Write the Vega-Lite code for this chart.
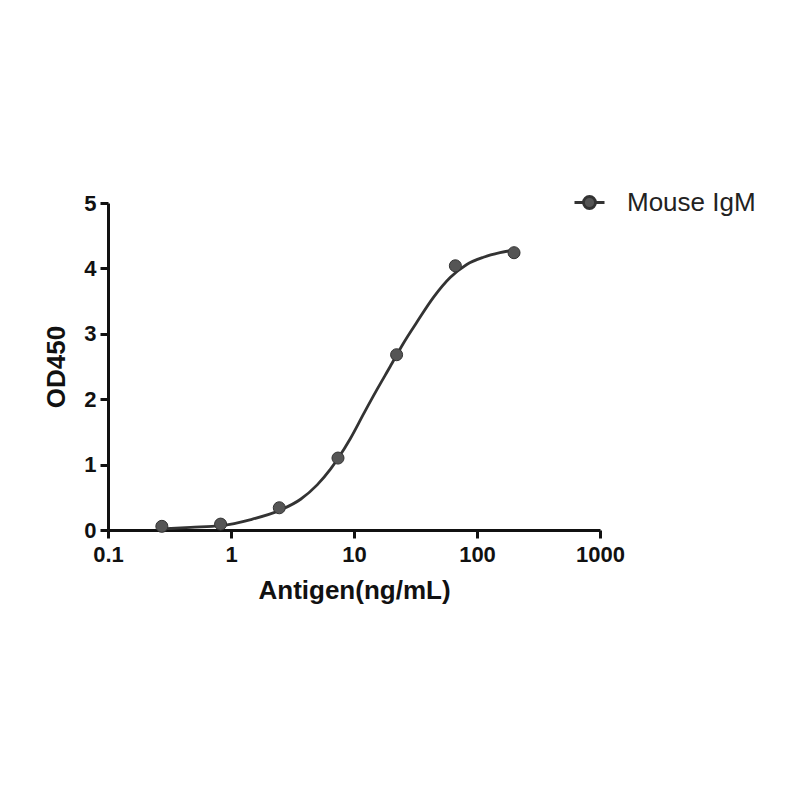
{
  "$schema": "https://vega.github.io/schema/vega-lite/v6.json",
  "width": 492,
  "height": 327,
  "autosize": "none",
  "padding": {"left": 108, "top": 203, "right": 200, "bottom": 270},
  "background": "white",
  "config": {
    "view": {"stroke": null},
    "font": "Liberation Sans",
    "axis": {
      "domainColor": "#111",
      "domainWidth": 3,
      "tickColor": "#111",
      "tickWidth": 3,
      "tickSize": 8,
      "grid": false,
      "labelFont": "Liberation Sans",
      "labelFontWeight": "bold",
      "labelFontSize": 22,
      "labelColor": "#111",
      "titleFont": "Liberation Sans",
      "titleFontWeight": "bold",
      "titleFontSize": 26,
      "titleColor": "#111"
    }
  },
  "datasets": {
    "points": [
      {"conc": 0.274, "od": 0.056, "series": "Mouse IgM"},
      {"conc": 0.823, "od": 0.09, "series": "Mouse IgM"},
      {"conc": 2.47, "od": 0.34, "series": "Mouse IgM"},
      {"conc": 7.41, "od": 1.1, "series": "Mouse IgM"},
      {"conc": 22.2, "od": 2.68, "series": "Mouse IgM"},
      {"conc": 66.7, "od": 4.04, "series": "Mouse IgM"},
      {"conc": 200, "od": 4.24, "series": "Mouse IgM"}
    ],
    "curve": [
      {"conc": 0.27, "od": 0.015},
      {"conc": 0.47, "od": 0.04},
      {"conc": 0.82, "od": 0.066},
      {"conc": 1.45, "od": 0.16},
      {"conc": 2.48, "od": 0.3},
      {"conc": 3.68, "od": 0.47},
      {"conc": 5.02, "od": 0.69},
      {"conc": 6.44, "od": 0.93},
      {"conc": 7.45, "od": 1.1},
      {"conc": 9.35, "od": 1.4},
      {"conc": 12.0, "od": 1.78},
      {"conc": 15.4, "od": 2.15},
      {"conc": 19.7, "od": 2.5},
      {"conc": 25.3, "od": 2.86},
      {"conc": 32.5, "od": 3.18},
      {"conc": 44.4, "od": 3.56},
      {"conc": 60.5, "od": 3.86},
      {"conc": 82.6, "od": 4.06},
      {"conc": 112.7, "od": 4.17},
      {"conc": 153.8, "od": 4.24},
      {"conc": 200, "od": 4.28}
    ]
  },
  "layer": [
    {
      "data": {"name": "curve"},
      "mark": {"type": "line", "color": "#333", "strokeWidth": 2.8, "interpolate": "monotone", "clip": true},
      "encoding": {
        "x": {"field": "conc", "type": "quantitative"},
        "y": {"field": "od", "type": "quantitative"}
      }
    },
    {
      "data": {"name": "points"},
      "mark": {"type": "point", "filled": true, "size": 145, "stroke": "#333", "strokeWidth": 1, "opacity": 1},
      "encoding": {
        "x": {
          "field": "conc",
          "type": "quantitative",
          "scale": {"type": "log", "domain": [0.1, 1000], "nice": false},
          "axis": {
            "title": "Antigen(ng/mL)",
            "values": [0.1, 1, 10, 100, 1000],
            "format": "~r",
            "labelPadding": 6,
            "titlePadding": 12,
            "labelFlush": false
          }
        },
        "y": {
          "field": "od",
          "type": "quantitative",
          "scale": {"domain": [0, 5], "nice": false},
          "axis": {
            "title": "OD450",
            "values": [0, 1, 2, 3, 4, 5],
            "format": "d",
            "labelPadding": 4,
            "titlePadding": 14
          }
        },
        "color": {
          "field": "series",
          "type": "nominal",
          "scale": {"range": ["#555555"]},
          "legend": {
            "title": null,
            "orient": "none",
            "legendX": 465,
            "legendY": -17,
            "symbolType": "M-1,0L-0.4,0M0.4,0L1,0M-0.4,0A0.4,0.4,0,1,1,0.4,0A0.4,0.4,0,1,1,-0.4,0Z",
            "symbolSize": 900,
            "symbolFillColor": "#555555",
            "symbolStrokeColor": "#333333",
            "symbolStrokeWidth": 2.8,
            "labelFont": "Liberation Sans",
            "labelFontSize": 26,
            "labelColor": "#222",
            "labelOffset": 21
          }
        }
      }
    }
  ]
}
